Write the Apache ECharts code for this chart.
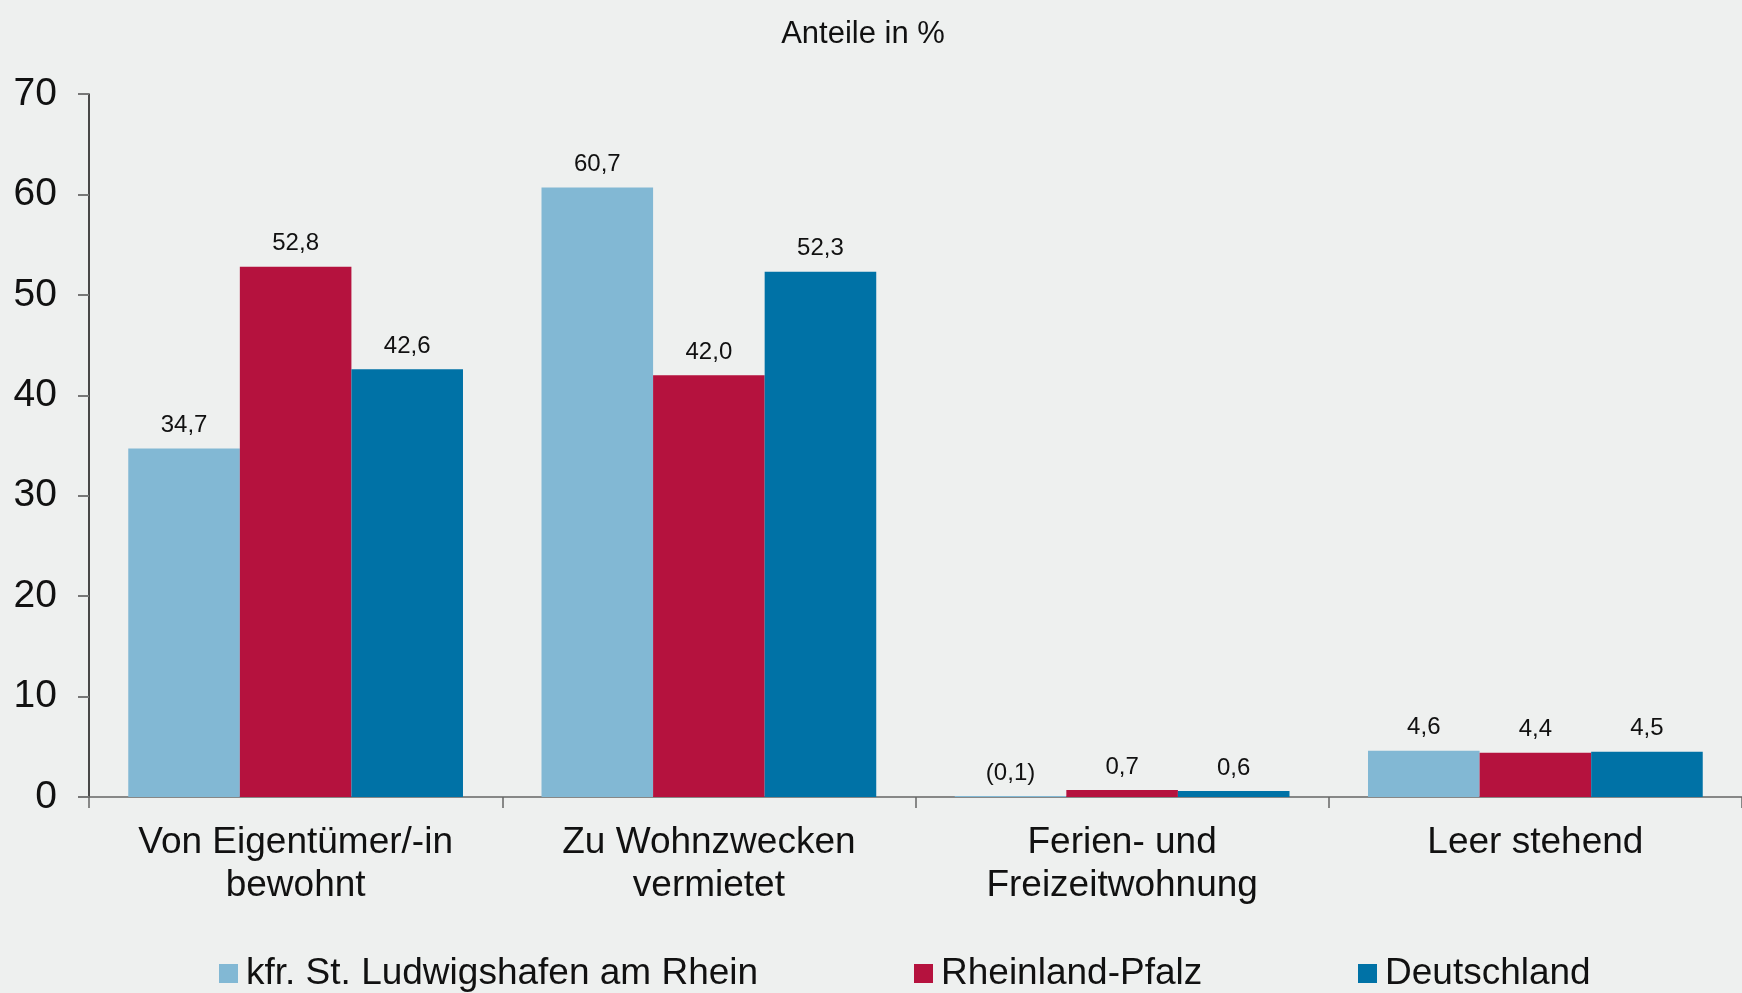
<!DOCTYPE html>
<html>
<head>
<meta charset="utf-8">
<script src="https://cdn.jsdelivr.net/npm/echarts@6/dist/echarts.min.js"></script>
<style>
  html, body { margin: 0; padding: 0; background: #eef0ef; }
  #chart { width: 1742px; height: 993px; }
</style>
</head>
<body>
<div id="chart"></div>
<script>
// data
const categories = ['Von Eigentümer/-in\nbewohnt', 'Zu Wohnzwecken\nvermietet', 'Ferien- und\nFreizeitwohnung', 'Leer stehend'];
const seriesNames = ['kfr. St. Ludwigshafen am Rhein', 'Rheinland-Pfalz', 'Deutschland'];
const ludwigshafen = [34.7, 60.7, 0.1, 4.6];
const rheinlandPfalz = [52.8, 42.0, 0.7, 4.4];
const deutschland = [42.6, 52.3, 0.6, 4.5];
const ludwigshafenLabels = ['34,7', '60,7', '(0,1)', '4,6'];
const colors = ['#82b8d4', '#b5123e', '#0072a6'];

const font = 'Liberation Sans';

function fmt(v) {
  return v.toFixed(1).replace('.', ',');
}

function bar(name, values, color, labels) {
  return {
    name: name,
    type: 'bar',
    data: values,
    itemStyle: { color: color },
    barGap: '0%',
    barCategoryGap: '19%',
    label: {
      show: true,
      position: 'top',
      distance: 11,
      color: '#111',
      fontFamily: font,
      fontSize: 24,
      formatter: p => labels ? labels[p.dataIndex] : fmt(p.value)
    }
  };
}

const chart = echarts.init(document.getElementById('chart'));

const legendBase = {
  orient: 'horizontal',
  top: 950,
  itemWidth: 19,
  itemHeight: 19,
  icon: 'rect',
  textStyle: { fontFamily: font, fontSize: 37, color: '#111', padding: [0, 0, 0, 3] }
};

chart.setOption({
  backgroundColor: '#eef0ef',
  animation: false,
  title: {
    text: 'Anteile in %',
    left: 858,
    textAlign: 'center',
    top: 14,
    textStyle: { fontFamily: font, fontSize: 31, fontWeight: 'normal', color: '#111' }
  },
  legend: [
    Object.assign({}, legendBase, { data: [seriesNames[0]], left: 214 }),
    Object.assign({}, legendBase, { data: [seriesNames[1]], left: 909 }),
    Object.assign({}, legendBase, { data: [seriesNames[2]], left: 1353 })
  ],
  grid: { left: 89, right: -6, top: 94, bottom: 196, containLabel: false },
  xAxis: {
    type: 'category',
    data: categories,
    axisLine: { lineStyle: { color: '#666', width: 1.5 } },
    axisTick: { show: true, length: 11, lineStyle: { color: '#666', width: 1.5 } },
    axisLabel: {
      fontFamily: font,
      fontSize: 37,
      color: '#111',
      lineHeight: 43,
      margin: 24,
      interval: 0
    }
  },
  yAxis: {
    type: 'value',
    min: 0,
    max: 70,
    interval: 10,
    splitLine: { show: false },
    axisLine: { show: true, lineStyle: { color: '#111', width: 1.5 } },
    axisTick: { show: true, length: 11, lineStyle: { color: '#777', width: 2 } },
    axisLabel: { fontFamily: font, fontSize: 39, color: '#111', margin: 32 }
  },
  series: [
    bar(seriesNames[0], ludwigshafen, colors[0], ludwigshafenLabels),
    bar(seriesNames[1], rheinlandPfalz, colors[1]),
    bar(seriesNames[2], deutschland, colors[2])
  ]
});
</script>
</body>
</html>
